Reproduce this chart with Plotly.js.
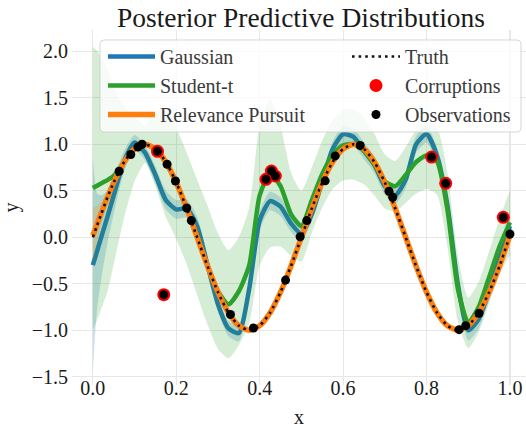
<!DOCTYPE html>
<html>
<head>
<meta charset="utf-8">
<script src="https://cdn.plot.ly/plotly-3.0.1.min.js"></script>
<style>html,body{margin:0;padding:0;background:#fff;}#chart{width:526px;height:428px;}</style>
</head>
<body>
<div id="chart"></div>
<script>
// ---- data ----
const xs = [0, 0.01, 0.02, 0.035, 0.05, 0.075, 0.1, 0.125, 0.15, 0.175, 0.2, 0.225, 0.25, 0.275, 0.3, 0.325, 0.35, 0.375, 0.4, 0.425, 0.45, 0.475, 0.5, 0.525, 0.55, 0.575, 0.6, 0.625, 0.65, 0.675, 0.7, 0.725, 0.75, 0.775, 0.8, 0.825, 0.85, 0.875, 0.9, 0.925, 0.95, 0.975, 1.0];

const truthY = [0, 0.125, 0.25, 0.43, 0.59, 0.81, 0.95, 1.0, 0.95, 0.81, 0.59, 0.31, 0.0, -0.31, -0.59, -0.81, -0.95, -1.0, -0.95, -0.81, -0.59, -0.31, 0.0, 0.31, 0.59, 0.81, 0.95, 1.0, 0.95, 0.81, 0.59, 0.31, 0.0, -0.31, -0.59, -0.81, -0.95, -1.0, -0.95, -0.81, -0.59, -0.31, 0.02];

const relevanceMean = [0.02, 0.14, 0.26, 0.43, 0.59, 0.81, 0.95, 1.0, 0.95, 0.81, 0.59, 0.31, 0.0, -0.31, -0.59, -0.81, -0.95, -1.0, -0.95, -0.81, -0.59, -0.31, 0.0, 0.31, 0.59, 0.81, 0.95, 1.0, 0.95, 0.81, 0.59, 0.31, 0.0, -0.31, -0.59, -0.81, -0.95, -1.0, -0.95, -0.81, -0.59, -0.31, 0.02];
const relevanceHalf = [0.3, 0.2, 0.12, 0.06, 0.04, 0.03, 0.02, 0.02, 0.02, 0.02, 0.02, 0.02, 0.02, 0.02, 0.02, 0.02, 0.02, 0.02, 0.02, 0.02, 0.02, 0.02, 0.02, 0.02, 0.02, 0.02, 0.02, 0.02, 0.02, 0.02, 0.02, 0.02, 0.02, 0.02, 0.02, 0.02, 0.02, 0.02, 0.02, 0.02, 0.02, 0.03, 0.05];

const gaussMean = [-0.30, -0.15, 0.0, 0.22, 0.45, 0.82, 1.02, 0.91, 0.67, 0.40, 0.30, 0.31, 0.12, -0.30, -0.72, -0.98, -1.03, -0.55, 0.18, 0.39, 0.33, 0.15, 0.04, 0.25, 0.60, 0.95, 1.11, 1.08, 0.93, 0.78, 0.55, 0.45, 0.62, 1.0, 1.11, 0.88, 0.35, -0.50, -1.0, -0.88, -0.58, -0.22, 0.12];
const gaussHalf = [1.15, 0.62, 0.45, 0.28, 0.2, 0.11, 0.08, 0.08, 0.09, 0.1, 0.1, 0.1, 0.1, 0.09, 0.08, 0.08, 0.09, 0.1, 0.1, 0.1, 0.1, 0.09, 0.08, 0.08, 0.08, 0.08, 0.09, 0.09, 0.09, 0.09, 0.09, 0.09, 0.09, 0.09, 0.09, 0.09, 0.1, 0.1, 0.11, 0.1, 0.1, 0.12, 0.18];

const studentMean = [0.53, 0.555, 0.58, 0.615, 0.66, 0.81, 0.95, 1.0, 0.95, 0.80, 0.58, 0.31, 0.0, -0.30, -0.58, -0.72, -0.58, -0.30, 0.45, 0.69, 0.55, 0.25, 0.12, 0.40, 0.68, 0.89, 0.99, 1.0, 0.93, 0.78, 0.60, 0.55, 0.67, 0.81, 0.88, 0.82, 0.30, -0.55, -0.92, -0.75, -0.43, -0.10, 0.16];
const studentHalf = [1.52, 1.45, 1.35, 1.2, 0.95, 0.6, 0.35, 0.2, 0.4, 0.58, 0.6, 0.6, 0.62, 0.64, 0.62, 0.58, 0.58, 0.62, 0.75, 0.8, 0.65, 0.45, 0.38, 0.35, 0.36, 0.37, 0.38, 0.38, 0.36, 0.33, 0.29, 0.27, 0.3, 0.34, 0.36, 0.36, 0.4, 0.35, 0.27, 0.27, 0.28, 0.3, 0.35];

const obsX = [0.063, 0.091, 0.108, 0.118, 0.155, 0.170, 0.178, 0.198, 0.225, 0.236, 0.33, 0.385, 0.415, 0.428, 0.4375, 0.462, 0.497, 0.513, 0.557, 0.581, 0.641, 0.710, 0.719, 0.812, 0.846, 0.878, 0.894, 0.926, 0.984, 1.0];
const obsY = [0.71, 0.89, 0.97, 1.0, 0.925, -0.617, 0.785, 0.605, 0.315, 0.18, -0.83, -0.975, 0.623, 0.713, 0.659, -0.46, 0.006, 0.18, 0.607, 0.875, 0.987, 0.495, 0.43, 0.863, 0.58, -0.993, -0.95, -0.817, 0.215, 0.035];

const corrX = [0.155, 0.170, 0.415, 0.428, 0.4375, 0.812, 0.846, 0.984];
const corrY = [0.925, -0.617, 0.623, 0.713, 0.659, 0.863, 0.58, 0.215];

const xTickVals = [0, 0.2, 0.4, 0.6, 0.8, 1.0];
const xTickText = ['0.0', '0.2', '0.4', '0.6', '0.8', '1.0'];
const yTickVals = [-1.5, -1.0, -0.5, 0.0, 0.5, 1.0, 1.5, 2.0];
const yTickText = ['\u22121.5', '\u22121.0', '\u22120.5', '0.0', '0.5', '1.0', '1.5', '2.0'];

// ---- helpers ----
const lo = (m, h) => m.map((v, i) => v - h[i]);
const hi = (m, h) => m.map((v, i) => v + h[i]);

const BLUE = '#1f77b4', GREEN = '#2ca02c', ORANGE = '#ff7f0e';
const FONT = '"Liberation Serif", "Times New Roman", serif';
const TXT = '#1a1a1a';

function band(mean, half, fill) {
  return [
    {x: xs, y: lo(mean, half), mode: 'lines', line: {width: 0, shape: 'spline', smoothing: 0.6}, showlegend: false, hoverinfo: 'skip'},
    {x: xs, y: hi(mean, half), mode: 'lines', line: {width: 0, shape: 'spline', smoothing: 0.6}, fill: 'tonexty', fillcolor: fill, showlegend: false, hoverinfo: 'skip'}
  ];
}

const traces = [
  ...band(gaussMean, gaussHalf, 'rgba(31,119,180,0.22)'),
  {x: xs, y: gaussMean, mode: 'lines', name: 'Gaussian', line: {color: BLUE, width: 4.5, shape: 'spline', smoothing: 0.6}, legend: 'legend', legendrank: 1},
  ...band(studentMean, studentHalf, 'rgba(44,160,44,0.2)'),
  {x: xs, y: studentMean, mode: 'lines', name: 'Student-t', line: {color: GREEN, width: 4.5, shape: 'spline', smoothing: 0.6}, legend: 'legend', legendrank: 2},
  ...band(relevanceMean, relevanceHalf, 'rgba(255,127,14,0.2)'),
  {x: xs, y: relevanceMean, mode: 'lines', name: 'Relevance Pursuit', line: {color: ORANGE, width: 5.5, shape: 'spline', smoothing: 0.6}, legend: 'legend', legendrank: 3},
  {x: xs, y: truthY, mode: 'lines', name: 'Truth', line: {color: '#111', width: 2.6, dash: '2.6px,4px', shape: 'spline', smoothing: 0.6}, legend: 'legend2', legendrank: 1},
  {x: corrX, y: corrY, mode: 'markers', name: 'Corruptions', marker: {color: '#ff0000', size: 13}, legend: 'legend2', legendrank: 2},
  {x: obsX, y: obsY, mode: 'markers', name: 'Observations', marker: {color: '#000', size: 9}, legend: 'legend2', legendrank: 3}
];

const PL = 72, PR = 526, PT = 30, PB = 385;
const px2x = p => (p - PL) / (PR - PL);
const px2y = p => (PB - p) / (PB - PT);

// rounded legend frame, built in paper coordinates from pixel corners
function roundRect(x0, y0, x1, y1, r) {
  const X = px2x, Y = px2y;
  return 'M' + X(x0 + r) + ',' + Y(y0) +
    ' L' + X(x1 - r) + ',' + Y(y0) + ' Q' + X(x1) + ',' + Y(y0) + ' ' + X(x1) + ',' + Y(y0 + r) +
    ' L' + X(x1) + ',' + Y(y1 - r) + ' Q' + X(x1) + ',' + Y(y1) + ' ' + X(x1 - r) + ',' + Y(y1) +
    ' L' + X(x0 + r) + ',' + Y(y1) + ' Q' + X(x0) + ',' + Y(y1) + ' ' + X(x0) + ',' + Y(y1 - r) +
    ' L' + X(x0) + ',' + Y(y0 + r) + ' Q' + X(x0) + ',' + Y(y0) + ' ' + X(x0 + r) + ',' + Y(y0) + ' Z';
}

const axisFont = {family: FONT, size: 20, color: TXT};
const legFont = {family: FONT, size: 20, color: '#3a3a3a'};

const layout = {
  width: 526, height: 428,
  margin: {l: PL, r: 526 - PR, t: PT, b: 428 - PB, pad: 0},
  paper_bgcolor: '#fff', plot_bgcolor: '#fff',
  font: {family: FONT, size: 20, color: TXT},
  title: {text: 'Posterior Predictive Distributions', font: {family: FONT, size: 27.5, color: TXT}, x: 301 / 526, xanchor: 'center', xref: 'container', y: 1 - 17 / 428, yanchor: 'middle', yref: 'container'},
  xaxis: {range: [-0.05, 1.0385], tickvals: xTickVals, ticktext: xTickText, showgrid: true, gridcolor: '#e8e6e6', gridwidth: 1.2, zeroline: false, showline: false, ticks: '', ticklabelstandoff: -11, tickfont: axisFont, title: {text: 'x', font: axisFont, standoff: 11}},
  yaxis: {range: [-1.588, 2.229], tickvals: yTickVals, ticktext: yTickText, showgrid: true, gridcolor: '#e8e6e6', gridwidth: 1.2, zeroline: false, showline: false, ticks: '', ticklabelstandoff: 3, tickfont: axisFont, title: {text: 'y', font: axisFont, standoff: 12}},
  legend: {x: px2x(103), y: px2y(37), xanchor: 'left', yanchor: 'top', traceorder: 'normal', itemwidth: 47, bgcolor: 'rgba(0,0,0,0)', borderwidth: 0, font: legFont, tracegroupgap: 0},
  legend2: {x: px2x(347), y: px2y(37), xanchor: 'left', yanchor: 'top', traceorder: 'normal', itemwidth: 48, bgcolor: 'rgba(0,0,0,0)', borderwidth: 0, font: legFont, tracegroupgap: 0},
  shapes: [{type: 'path', xref: 'paper', yref: 'paper', path: roundRect(100, 40, 521, 132, 4), fillcolor: 'rgba(255,255,255,0.8)', line: {color: 'rgba(204,204,204,0.8)', width: 1}, layer: 'above'}]
};

Plotly.newPlot('chart', traces, layout, {displayModeBar: false, staticPlot: true});
</script>
</body>
</html>
